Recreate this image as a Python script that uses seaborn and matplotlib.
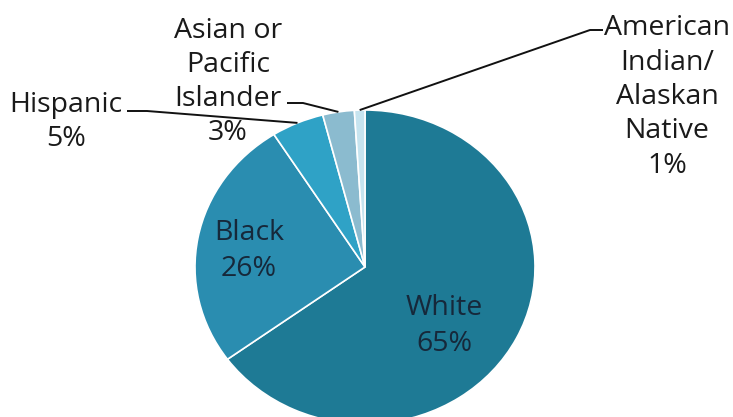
import matplotlib
matplotlib.use("Agg")
import matplotlib.pyplot as plt
import seaborn as sns
import numpy as np

# data
categories = ["White", "Black", "Hispanic", "Asian or\nPacific\nIslander", "American\nIndian/\nAlaskan\nNative"]
values = [65, 26, 5, 3, 1]
pct_labels = ["65%", "26%", "5%", "3%", "1%"]
colors = ["#1e7a95", "#2a8db0", "#2fa2c6", "#8bbbcf", "#c6e4ef"]

sns.set_theme(style="white")
plt.rcParams['font.family'] = ['Open Sans', 'DejaVu Sans']

fig = plt.figure(figsize=(7.33, 4.17), dpi=100)
W, H = 733, 417
cx, cy, rx, ry = 365, 267, 170, 157
ax = fig.add_axes([(cx - rx) / W, (H - (cy + ry)) / H, 2 * rx / W, 2 * ry / H])

palette = sns.color_palette(colors)
wedges, _ = ax.pie(values, colors=palette, startangle=90, counterclock=False,
                   radius=1, center=(0, 0), frame=True,
                   wedgeprops=dict(edgecolor="white", linewidth=1.2))
ax.set_aspect("auto")
ax.set_xlim(-1, 1)
ax.set_ylim(-1, 1)
ax.axis("off")


def p2d(px, py):
    return ((px - cx) / rx, (cy - py) / ry)


txt_kw = dict(ha="center", va="center", fontsize=20.5, linespacing=1.3,
              clip_on=False, fontweight=500)
in_kw = dict(txt_kw, linespacing=1.4)

# inside labels
ax.text(*p2d(444, 326), f"{categories[0]}\n{pct_labels[0]}", color="#16283a", **in_kw)
ax.text(*p2d(249, 251), f"{categories[1]}\n{pct_labels[1]}", color="#16283a", **in_kw)

# outside labels
ax.text(*p2d(66, 122), f"{categories[2]}\n{pct_labels[2]}", color="#1a1a1a", **txt_kw)
ax.text(*p2d(228, 82), f"{categories[3]}\n{pct_labels[3]}", color="#1a1a1a", **txt_kw)
ax.text(*p2d(667, 97), f"{categories[4]}\n{pct_labels[4]}", color="#1a1a1a", **txt_kw)

# leader lines from wedge mid-angle edge points
def edge_point(w):
    ang = np.deg2rad((w.theta1 + w.theta2) / 2)
    return np.cos(ang), np.sin(ang)

leader_starts = {2: [(127, 111), (147, 111)], 3: [(287, 103), (303, 103)], 4: [(603, 30), (590, 30)]}
for i, pts in leader_starts.items():
    ex, ey = edge_point(wedges[i])
    xs = [p2d(*p)[0] for p in pts] + [ex]
    ys = [p2d(*p)[1] for p in pts] + [ey]
    ax.plot(xs, ys, color="#111111", lw=1.4, clip_on=False, solid_capstyle="butt")

fig.savefig("out.png", dpi=100)
